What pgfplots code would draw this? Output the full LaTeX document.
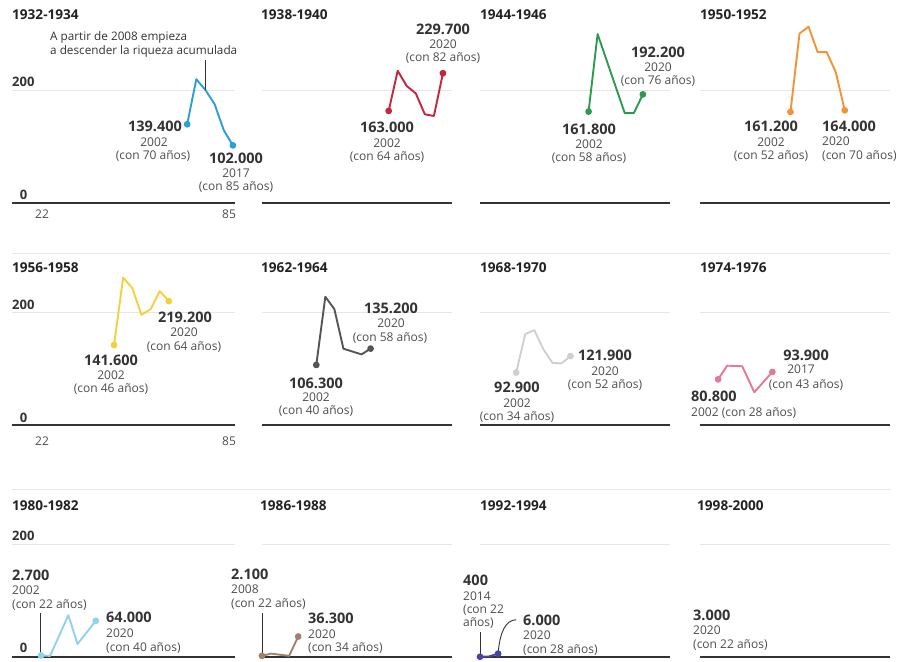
\documentclass[border=0pt]{standalone}
\usepackage{pgfplots}
\pgfplotsset{compat=1.18}
\usepackage{fontspec}
\setmainfont{Open Sans}
\definecolor{c1}{HTML}{2B9FD8}
\definecolor{c2}{HTML}{C8243C}
\definecolor{c3}{HTML}{2E9A50}
\definecolor{c4}{HTML}{F39237}
\definecolor{c5}{HTML}{F4D03F}
\definecolor{c6}{HTML}{555555}
\definecolor{c7}{HTML}{CFCFCF}
\definecolor{c8}{HTML}{E27A96}
\definecolor{c9}{HTML}{8FD3F0}
\definecolor{c10}{HTML}{A2826A}
\definecolor{c11}{HTML}{4B44A8}
\definecolor{gridc}{HTML}{E6E6E6}
\definecolor{zeroc}{HTML}{333333}
\definecolor{valc}{HTML}{333333}
\definecolor{subc}{HTML}{4D4D4D}
\definecolor{ttlc}{HTML}{222222}
\pgfplotsset{
 panel/.style={scale only axis, clip=false, anchor=south west,
   xmin=22, xmax=85, ymin=0, ymax=200, width=190pt, height=113pt,
   axis line style={draw=none}, xtick=\empty, ytick={200}, yticklabels={},
   major tick length=0pt, ymajorgrids, major grid style={draw=gridc, line width=1pt},
   extra y ticks={0}, extra y tick labels={},
   extra y tick style={grid=major, major grid style={draw=zeroc, line width=1.4pt}}},
 col1/.style={xmin=12.5, xmax=85.7, width=223pt},
 ser/.style={color=#1, line width=1.9pt, line join=round, mark=*, mark size=2.4pt,
   mark options={fill=#1, draw=#1, solid}},
}
\tikzset{
 val/.style={font=\fontsize{14.5}{16}\selectfont\bfseries, text=valc, inner sep=0pt},
 sub/.style={font=\fontsize{12}{14}\selectfont, text=subc, inner sep=0pt},
 ann/.style={font=\fontsize{11.75}{14}\selectfont, text=valc, inner sep=0pt, anchor=west},
 ttl/.style={font=\fontsize{13.6}{15}\selectfont\bfseries, text=ttlc, inner sep=0pt, anchor=west},
 tk/.style={font=\fontsize{13}{15}\selectfont\bfseries, text=valc, inner sep=0pt},
 annot/.style={draw=zeroc, line width=0.9pt},
}
\begin{document}
\begin{tikzpicture}
\useasboundingbox (0pt,-661pt) rectangle (899pt,0pt);
% separators
\draw[gridc, line width=1pt] (12pt,-253pt) -- (890pt,-253pt);
\draw[gridc, line width=1pt] (12pt,-489pt) -- (890pt,-489pt);
% ---------- Row 1 ----------
\begin{axis}[panel, col1, at={(12pt,-203pt)}]
\addplot[ser=c1, mark indices={1,6}] coordinates {(70,139.4) (73,219) (76,200) (79,175) (82,129) (85,102)};
\draw[annot] (axis cs:76,200) -- (axis cs:76,253);
\end{axis}
\begin{axis}[panel, at={(262pt,-203pt)}]
\addplot[ser=c2, mark indices={1,7}] coordinates {(64,163.0) (67,234) (70,207) (73,194) (76,157) (79,154) (82,229.7)};
\end{axis}
\begin{axis}[panel, at={(480pt,-203pt)}]
\addplot[ser=c3, mark indices={1,5}] coordinates {(58,161.8) (61,299) (70,159) (73,159) (76,192.2)};
\end{axis}
\begin{axis}[panel, at={(700pt,-203pt)}]
\addplot[ser=c4, mark indices={1,7}] coordinates {(52,161.2) (55,300) (58,312) (61,267) (64,267) (67,232) (70,164.0)};
\end{axis}
% ---------- Row 2 ----------
\begin{axis}[panel, col1, at={(12pt,-425pt)}]
\addplot[ser=c5, mark indices={1,7}] coordinates {(46,141.6) (49,261) (52,242) (55,195) (58,205) (61,237) (64,219.2)};
\end{axis}
\begin{axis}[panel, at={(262pt,-425pt)}]
\addplot[ser=c6, mark indices={1,7}] coordinates {(40,106.3) (43,227) (46,205) (49,135) (52,130) (55,125) (58,135.2)};
\end{axis}
\begin{axis}[panel, at={(480pt,-425pt)}]
\addplot[ser=c7, mark indices={1,7}] coordinates {(34,92.9) (37,161) (40,168) (43,134) (46,110) (49,109) (52,121.9)};
\end{axis}
\begin{axis}[panel, at={(700pt,-425pt)}]
\addplot[ser=c8, mark indices={1,5}] coordinates {(28,80.8) (31,105) (36,104) (40,58) (46,93.9)};
\end{axis}
% ---------- Row 3 ----------
\begin{axis}[panel, col1, at={(12pt,-657pt)}]
\draw[annot] (axis cs:22,2.7) -- (axis cs:22,78);
\addplot[ser=c9, mark indices={1,5}] coordinates {(22,2.7) (25,2) (31,74) (34,23) (40,64.0)};
\end{axis}
\begin{axis}[panel, at={(262pt,-657pt)}]
\draw[annot] (axis cs:22,2.1) -- (axis cs:22,78);
\addplot[ser=c10, mark indices={1,5}] coordinates {(22,2.1) (25,6) (28,4) (31,2) (34,36.3)};
\end{axis}
\begin{axis}[panel, at={(480pt,-657pt)}]
\draw[annot] (axis cs:22,0.4) -- (axis cs:22,44);
\draw[annot] (axis cs:28,6) .. controls (axis cs:28.6,45) and (axis cs:30.5,65) .. (axis cs:34,66);
\addplot[ser=c11, mark indices={1,3}] coordinates {(22,0.4) (25,1) (28,6.0)};
\end{axis}
\begin{axis}[panel, at={(700pt,-657pt)}]
\end{axis}
% ---------- Titles ----------
\node[ttl] at (12pt,-15pt) {1932-1934};
\node[ttl] at (261pt,-15pt) {1938-1940};
\node[ttl] at (480pt,-15pt) {1944-1946};
\node[ttl] at (700pt,-15pt) {1950-1952};
\node[ttl] at (12pt,-268pt) {1956-1958};
\node[ttl] at (261pt,-268pt) {1962-1964};
\node[ttl] at (480pt,-268pt) {1968-1970};
\node[ttl] at (700pt,-268pt) {1974-1976};
\node[ttl] at (12pt,-506pt) {1980-1982};
\node[ttl] at (260pt,-506pt) {1986-1988};
\node[ttl] at (480pt,-506pt) {1992-1994};
\node[ttl] at (697pt,-506pt) {1998-2000};
% ---------- Tick labels ----------
\node[tk, anchor=west] at (12pt,-82pt) {200};
\node[tk] at (23.5pt,-195pt) {0};
\node[sub] at (42pt,-214pt) {22};
\node[sub] at (229pt,-214pt) {85};
\node[tk, anchor=west] at (12pt,-305pt) {200};
\node[tk] at (23.5pt,-418pt) {0};
\node[sub] at (42pt,-441pt) {22};
\node[sub] at (229pt,-441pt) {85};
\node[tk, anchor=west] at (12pt,-536pt) {200};
\node[tk] at (23.5pt,-648pt) {0};
% ---------- Panel 1 ----------
\node[ann] at (50pt,-37pt) {A partir de 2008 empieza};
\node[ann] at (50pt,-51pt) {a descender la riqueza acumulada};
\node[val] at (155pt,-126pt) {139.400};
\node[sub] at (154pt,-142pt) {2002};
\node[sub] at (153pt,-156pt) {(con 70 años)};
\node[val] at (236pt,-158pt) {102.000};
\node[sub] at (236pt,-173pt) {2017};
\node[sub] at (236pt,-187pt) {(con 85 años)};
% ---------- Panel 2 ----------
\node[val] at (443pt,-29pt) {229.700};
\node[sub] at (443pt,-44pt) {2020};
\node[sub] at (443pt,-58pt) {(con 82 años)};
\node[val] at (387pt,-127pt) {163.000};
\node[sub] at (387pt,-143pt) {2002};
\node[sub] at (387pt,-157pt) {(con 64 años)};
% ---------- Panel 3 ----------
\node[val] at (589pt,-129pt) {161.800};
\node[sub] at (589pt,-144pt) {2002};
\node[sub] at (589pt,-158pt) {(con 58 años)};
\node[val] at (658pt,-52pt) {192.200};
\node[sub] at (658pt,-67pt) {2020};
\node[sub] at (658pt,-81pt) {(con 76 años)};
% ---------- Panel 4 ----------
\node[val] at (771pt,-126pt) {161.200};
\node[sub] at (771pt,-142pt) {2002};
\node[sub] at (771pt,-156pt) {(con 52 años)};
\node[val, anchor=west] at (822pt,-126pt) {164.000};
\node[sub, anchor=west] at (822pt,-141pt) {2020};
\node[sub, anchor=west] at (822pt,-156pt) {(con 70 años)};
% ---------- Panel 5 ----------
\node[val] at (185pt,-317pt) {219.200};
\node[sub] at (184pt,-332pt) {2020};
\node[sub] at (184pt,-347pt) {(con 64 años)};
\node[val] at (111pt,-360pt) {141.600};
\node[sub] at (111pt,-375pt) {2002};
\node[sub] at (111pt,-389pt) {(con 46 años)};
% ---------- Panel 6 ----------
\node[val] at (391pt,-308pt) {135.200};
\node[sub] at (391pt,-323pt) {2020};
\node[sub] at (390pt,-338pt) {(con 58 años)};
\node[val] at (316pt,-383pt) {106.300};
\node[sub] at (316pt,-397pt) {2002};
\node[sub] at (316pt,-411pt) {(con 40 años)};
% ---------- Panel 7 ----------
\node[val] at (605pt,-355pt) {121.900};
\node[sub] at (605pt,-371pt) {2020};
\node[sub] at (605pt,-385pt) {(con 52 años)};
\node[val] at (517pt,-387pt) {92.900};
\node[sub] at (517pt,-403pt) {2002};
\node[sub] at (517pt,-417pt) {(con 34 años)};
% ---------- Panel 8 ----------
\node[val] at (806pt,-355pt) {93.900};
\node[sub] at (801pt,-369pt) {2017};
\node[sub] at (806pt,-385pt) {(con 43 años)};
\node[val, anchor=west] at (691pt,-396pt) {80.800};
\node[sub, anchor=west] at (691pt,-413pt) {2002 (con 28 años)};
% ---------- Panel 9 ----------
\node[val, anchor=west] at (12pt,-575pt) {2.700};
\node[sub, anchor=west] at (12pt,-590pt) {2002};
\node[sub, anchor=west] at (12pt,-605pt) {(con 22 años)};
\node[val, anchor=west] at (106pt,-617pt) {64.000};
\node[sub, anchor=west] at (106pt,-633pt) {2020};
\node[sub, anchor=west] at (106pt,-648pt) {(con 40 años)};
% ---------- Panel 10 ----------
\node[val, anchor=west] at (231pt,-574pt) {2.100};
\node[sub, anchor=west] at (231pt,-589pt) {2008};
\node[sub, anchor=west] at (231pt,-604pt) {(con 22 años)};
\node[val, anchor=west] at (308pt,-618pt) {36.300};
\node[sub, anchor=west] at (308pt,-634pt) {2020};
\node[sub, anchor=west] at (308pt,-648pt) {(con 34 años)};
% ---------- Panel 11 ----------
\node[val, anchor=west] at (463pt,-580pt) {400};
\node[sub, anchor=west] at (463pt,-596pt) {2014};
\node[sub, anchor=west] at (463pt,-610pt) {(con 22};
\node[sub, anchor=west] at (463pt,-623pt) {años)};
\node[val, anchor=west] at (523pt,-620pt) {6.000};
\node[sub, anchor=west] at (523pt,-635pt) {2020};
\node[sub, anchor=west] at (523pt,-650pt) {(con 28 años)};
% ---------- Panel 12 ----------
\node[val, anchor=west] at (693pt,-615pt) {3.000};
\node[sub, anchor=west] at (693pt,-630pt) {2020};
\node[sub, anchor=west] at (693pt,-645pt) {(con 22 años)};
\end{tikzpicture}
\end{document}
